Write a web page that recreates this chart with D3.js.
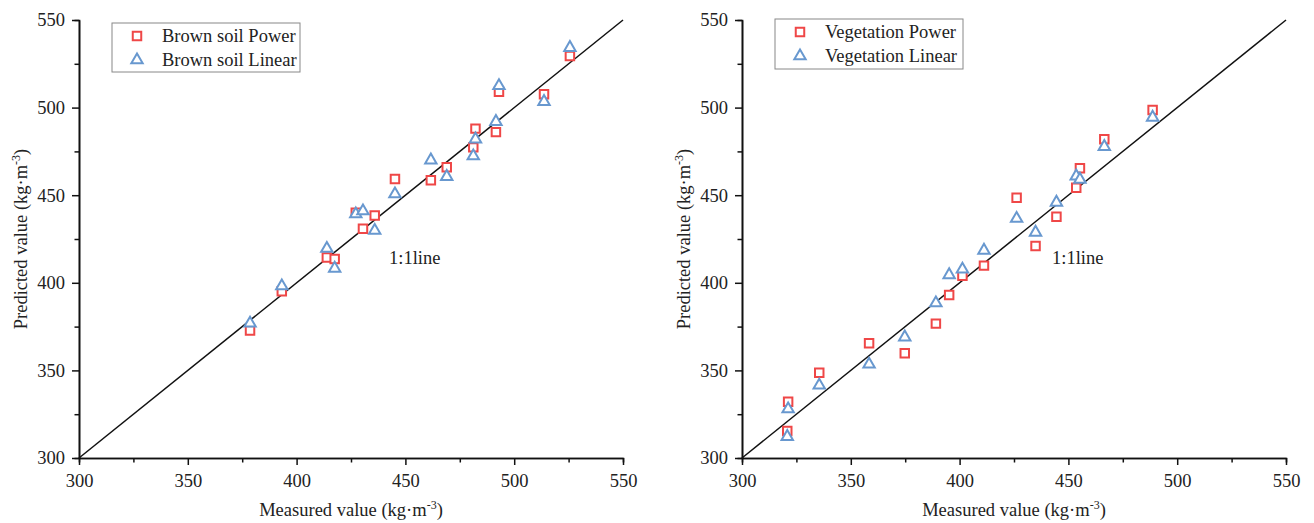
<!DOCTYPE html>
<html>
<head>
<meta charset="utf-8">
<script src="https://cdn.jsdelivr.net/npm/d3@7"></script>
<style>
  body { margin: 0; background: #fff; }
  svg text { font-family: "Liberation Serif", "Times New Roman", serif; fill: #222; }
</style>
</head>
<body>
<div id="chart"></div>
<script>
// brown soil panel (left)
var soilMeasured = [378.6, 393.2, 413.9, 417.5, 427.2, 430.5, 435.9, 445.2, 461.7, 469.0, 481.2, 482.2, 491.6, 493.0, 513.7, 525.6];
var soilPower    = [372.8, 395.2, 414.5, 413.6, 440.0, 430.9, 438.4, 459.2, 458.5, 465.9, 477.3, 488.0, 486.0, 509.0, 507.6, 529.5];
var soilLinear   = [376.9, 398.2, 419.6, 408.2, 439.3, 441.0, 429.8, 450.7, 470.0, 460.6, 472.4, 482.0, 492.0, 512.5, 503.4, 534.2];

// vegetation panel (right)
var vegMeasured = [320.8, 321.2, 335.5, 358.4, 374.8, 389.1, 395.2, 401.3, 411.2, 426.2, 434.9, 444.5, 453.6, 455.3, 466.5, 488.7];
var vegPower    = [315.4, 332.1, 348.7, 365.5, 359.8, 376.7, 393.0, 404.0, 409.8, 448.6, 421.0, 437.7, 454.3, 465.4, 482.0, 498.6];
var vegLinear   = [312.2, 328.0, 341.5, 353.5, 369.0, 388.5, 404.5, 407.7, 418.5, 436.7, 428.8, 445.9, 460.9, 459.0, 477.7, 494.4];

var majorTicks = [300, 350, 400, 450, 500, 550];
var minorTicks = [325, 375, 425, 475, 525];
var domain = [300, 550];

var red = "#EF4747";
var blue = "#6898CF";
var fontSize = "18.5px";

var width = 1314, height = 523;

var svg = d3.select("#chart").append("svg")
    .attr("width", width)
    .attr("height", height);

var panels = [
  {left: 79, top: 20, w: 544, h: 438, measured: soilMeasured, power: soilPower, linear: soilLinear,
   names: ["Brown soil Power", "Brown soil Linear"], legend: {x: 112, y: 23, w: 188, h: 49}},
  {left: 742, top: 20, w: 544, h: 438, measured: vegMeasured, power: vegPower, linear: vegLinear,
   names: ["Vegetation Power", "Vegetation Linear"], legend: {x: 775, y: 19, w: 188, h: 50}}
];

var squareSym = d3.symbol().type(d3.symbolSquare).size(72);
var triSym = d3.symbol().type(d3.symbolTriangle).size(56);

panels.forEach(function(p) {
  var g = svg.append("g").attr("transform", "translate(" + p.left + "," + p.top + ")");

  var x = d3.scaleLinear().domain(domain).range([0, p.w]);
  var y = d3.scaleLinear().domain(domain).range([p.h, 0]);

  //minor ticks first
  g.append("g")
    .attr("transform", "translate(0," + p.h + ")")
    .call(d3.axisBottom(x).tickValues(minorTicks).tickSize(4.5).tickFormat(""));
  g.append("g")
    .call(d3.axisLeft(y).tickValues(minorTicks).tickSize(4.5).tickFormat(""));

  g.append("g")
    .attr("transform", "translate(0," + p.h + ")")
    .call(d3.axisBottom(x).tickValues(majorTicks).tickSize(7).tickSizeOuter(0).tickPadding(9));
  g.append("g")
    .call(d3.axisLeft(y).tickValues(majorTicks).tickSize(7).tickSizeOuter(0).tickPadding(7));

  g.selectAll(".domain").attr("stroke", "#111").attr("stroke-width", 1.6);
  g.selectAll(".tick line").attr("stroke", "#111").attr("stroke-width", 1.5);
  g.selectAll(".tick text").style("font-size", fontSize).style("font-family", "'Liberation Serif', serif").attr("fill", "#333");

  //1:1 line
  g.append("line")
    .attr("x1", x(300)).attr("y1", y(300))
    .attr("x2", x(550)).attr("y2", y(550))
    .attr("stroke", "#111").attr("stroke-width", 1.5);

  g.append("text")
    .attr("x", x(442.5)).attr("y", y(411))
    .style("font-size", fontSize)
    .text("1:1line");

  var pts = p.measured.map(function(m, i) {
    return {m: m, pw: p.power[i], ln: p.linear[i]};
  });

  g.selectAll(".sq").data(pts).enter().append("path")
    .attr("class", "sq")
    .attr("d", squareSym)
    .attr("transform", function(d) { return "translate(" + x(d.m) + "," + y(d.pw) + ")"; })
    .attr("fill", "white")
    .attr("stroke", red)
    .attr("stroke-width", 2);

  g.selectAll(".tri").data(pts).enter().append("path")
    .attr("class", "tri")
    .attr("d", triSym)
    .attr("transform", function(d) { return "translate(" + x(d.m) + "," + y(d.ln) + ")"; })
    .attr("fill", "white")
    .attr("stroke", blue)
    .attr("stroke-width", 2);

  //axis titles
  var xt = g.append("text")
    .attr("x", p.w / 2).attr("y", p.h + 58)
    .attr("text-anchor", "middle")
    .style("font-size", fontSize);
  xt.append("tspan").text("Measured value (kg·m");
  xt.append("tspan").attr("dy", -7).style("font-size", "12px").text("-3");
  xt.append("tspan").attr("dy", 7).text(")");

  var yt = g.append("text")
    .attr("transform", "translate(-52," + (p.h / 2) + ") rotate(-90)")
    .attr("text-anchor", "middle")
    .style("font-size", fontSize);
  yt.append("tspan").text("Predicted value (kg·m");
  yt.append("tspan").attr("dy", -7).style("font-size", "12px").text("-3");
  yt.append("tspan").attr("dy", 7).text(")");

  //legend
  var lg = svg.append("g").attr("transform", "translate(" + p.legend.x + "," + p.legend.y + ")");
  lg.append("rect")
    .attr("width", p.legend.w).attr("height", p.legend.h)
    .attr("fill", "white").attr("stroke", "#888").attr("stroke-width", 1);
  lg.append("path").attr("d", squareSym)
    .attr("transform", "translate(25,13)")
    .attr("fill", "white").attr("stroke", red).attr("stroke-width", 2);
  lg.append("path").attr("d", triSym)
    .attr("transform", "translate(25,37)")
    .attr("fill", "white").attr("stroke", blue).attr("stroke-width", 2);
  lg.append("text").attr("x", 50).attr("y", 19).style("font-size", fontSize).text(p.names[0]);
  lg.append("text").attr("x", 50).attr("y", 43).style("font-size", fontSize).text(p.names[1]);
});
</script>
</body>
</html>
